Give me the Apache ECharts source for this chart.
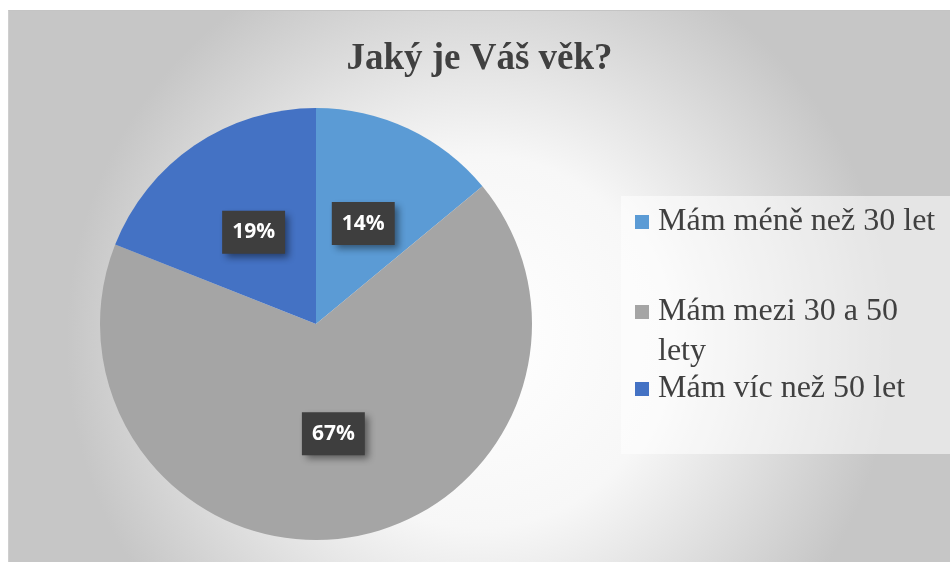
<!DOCTYPE html>
<html lang="cs">
<head>
<meta charset="utf-8">
<title>Jaký je Váš věk?</title>
<script src="https://cdn.jsdelivr.net/npm/echarts@6/dist/echarts.min.js"></script>
<style type="text/css">
	body {
		margin: 0;
		background: #ffffff;
	}
	/* plocha grafu */
	#pie {
		position: absolute;
		left: 8px;
		top: 10px;
		width: 942px;
		height: 552px;
		border-top: 1px solid #c4c4c4;
		border-left: 1px solid #cfcfcf;
		box-sizing: border-box;
	}
</style>
</head>
<body>
<div id="pie"></div>
<script type="text/javascript">
	// data
	var categories = ['Mám méně než 30 let', 'Mám mezi 30 a 50 lety', 'Mám víc než 50 let'];
	var values = [14, 67, 19];
	var colors = ['#5b9bd5', '#a5a5a5', '#4472c4'];

	var pie = echarts.init(document.getElementById('pie'));

	var legendText = {
		fontFamily: '"Liberation Serif", "Times New Roman", serif',
		fontSize: 32,
		color: '#404040',
		lineHeight: 40,
		padding: [0, 0, 0, 4]
	};

	// druha polozka se zalamuje, prazdny radek nahore drzi ctverecek u prvniho radku
	var legends = [
		{ top: 191, text: legendText, fmt: '{name}' },
		{ top: 241, text: Object.assign({}, legendText, { width: 270, overflow: 'break' }), fmt: function (n) { return '\n' + n; } },
		{ top: 358, text: legendText, fmt: '{name}' }
	].map(function (l, i) {
		return {
			data: [categories[i]],
			left: 626,
			top: l.top,
			padding: 0,
			icon: 'rect',
			itemWidth: 14,
			itemHeight: 14,
			selectedMode: false,
			formatter: l.fmt,
			textStyle: l.text
		};
	});

	pie.setOption({
		backgroundColor: {
			type: 'radial',
			x: 0.5,
			y: 0.6,
			r: 0.75,
			colorStops: [
				{ offset: 0, color: '#ffffff' },
				{ offset: 0.45, color: '#f7f7f7' },
				{ offset: 1, color: '#c6c6c6' }
			]
		},
		color: colors,
		title: {
			text: 'Jaký je Váš věk?',
			left: 'center',
			top: 25,
			textStyle: {
				fontFamily: '"Liberation Serif", "Times New Roman", serif',
				fontSize: 37,
				fontWeight: 'bold',
				color: '#404040'
			}
		},
		graphic: [{
			type: 'rect',
			left: 612,
			top: 185,
			shape: { width: 330, height: 258 },
			style: { fill: 'rgba(255,255,255,0.55)' },
			silent: true
		}],
		legend: legends,
		series: [{
			type: 'pie',
			center: [307, 313],
			radius: 216,
			startAngle: 90,
			clockwise: true,
			silent: true,
			data: categories.map(function (name, i) {
				return { name: name, value: values[i] };
			}),
			label: {
				show: true,
				position: 'inside',
				formatter: '{d}%',
				fontFamily: '"Open Sans", Lato, sans-serif',
				fontSize: 21,
				fontWeight: 'bold',
				color: '#ffffff',
				lineHeight: 23,
				padding: [10, 10, 10, 10],
				backgroundColor: '#3e3e3e',
				shadowColor: 'rgba(0,0,0,0.45)',
				shadowBlur: 7,
				shadowOffsetX: 4,
				shadowOffsetY: 4
			},
			labelLine: { show: false }
		}]
	});
</script>
</body>
</html>
